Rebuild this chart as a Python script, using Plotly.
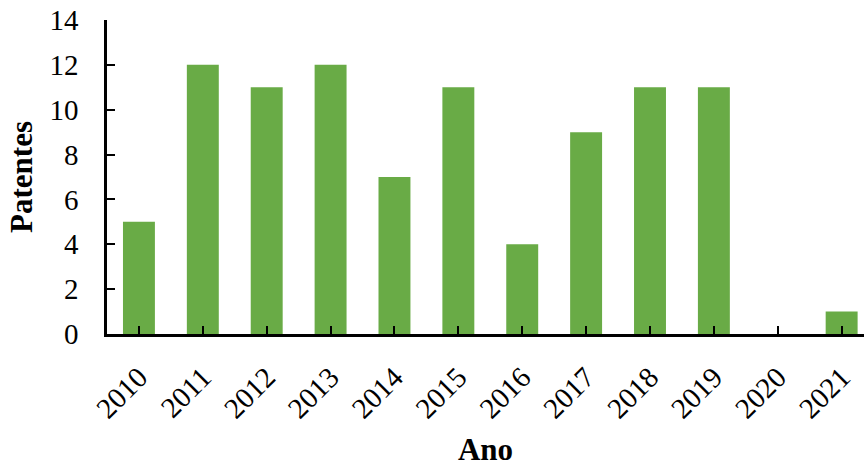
import plotly.graph_objects as go

anos = ["2010", "2011", "2012", "2013", "2014", "2015", "2016", "2017", "2018", "2019", "2020", "2021"]
patentes = [5, 12, 11, 12, 7, 11, 4, 9, 11, 11, 0, 1]
y_ticks = [0, 2, 4, 6, 8, 10, 12, 14]

font_family = "Liberation Serif, Times New Roman, serif"

fig = go.Figure(go.Bar(
    x=anos, y=patentes,
    marker=dict(color="#69ab46", line=dict(width=0)),
    width=0.5,
))

fig.update_layout(
    width=864, height=467,
    margin=dict(l=107, r=0, t=20, b=133),
    plot_bgcolor="white", paper_bgcolor="white",
    font=dict(family=font_family, size=29, color="black"),
    showlegend=False,
)

fig.update_xaxes(
    type="category",
    range=[-0.5, 11.35],
    automargin=False,
    showline=True, linecolor="black", linewidth=2.5,
    ticks="inside", ticklen=8, tickwidth=2, tickcolor="black",
    tickangle=-45,
    ticklabelstandoff=12,
    tickfont=dict(size=29),
    title=dict(text="<b>Ano</b>", font=dict(size=31), standoff=16),
    showgrid=False, zeroline=False,
)

fig.update_yaxes(
    range=[0, 14],
    tickvals=y_ticks,
    automargin=False,
    showline=True, linecolor="black", linewidth=2.5,
    ticks="inside", ticklen=8, tickwidth=2, tickcolor="black",
    ticklabelstandoff=20,
    tickfont=dict(size=29),
    title=dict(text="<b>Patentes</b>", font=dict(size=31), standoff=8),
    showgrid=False, zeroline=False,
)

fig.write_html("out.html", config={"displayModeBar": False},
               post_script="document.body.style.margin='0';")
